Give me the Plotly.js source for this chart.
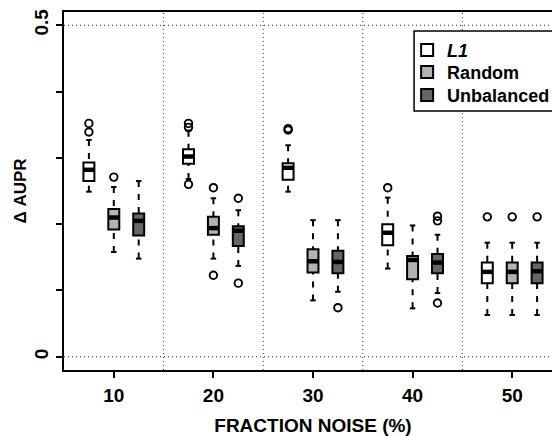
<!DOCTYPE html>
<html><head><meta charset="utf-8">
<script src="https://cdn.plot.ly/plotly-3.0.1.min.js"></script>
<style>html,body{margin:0;padding:0;overflow:hidden;background:#fff;width:552px;height:436px}</style>
</head><body><div id="chart"></div>
<script>
// ---------- data ----------
const groups = [10, 20, 30, 40, 50];
const tickLabels = ['10', '20', '30', '40', '50'];
const seriesNames = ['<i>L1</i>', 'Random', 'Unbalanced'];

const l1Lower   = [0.249, 0.268, 0.249, 0.133, 0.063];
const l1Q1      = [0.265, 0.291, 0.267, 0.168, 0.111];
const l1Median  = [0.282, 0.302, 0.285, 0.187, 0.128];
const l1Q3      = [0.293, 0.313, 0.292, 0.200, 0.142];
const l1Upper   = [0.327, 0.341, 0.319, 0.240, 0.172];
const l1Outliers = [[0.352, 0.339], [0.352, 0.346, 0.260], [0.342, 0.344], [0.255], [0.211]];

const randLower  = [0.158, 0.148, 0.085, 0.073, 0.063];
const randQ1     = [0.192, 0.184, 0.127, 0.117, 0.111];
const randMedian = [0.210, 0.194, 0.144, 0.146, 0.128];
const randQ3     = [0.223, 0.211, 0.162, 0.152, 0.142];
const randUpper  = [0.256, 0.239, 0.206, 0.198, 0.172];
const randOutliers = [[0.271], [0.255, 0.123], [], [], [0.211]];

const unbLower  = [0.148, 0.137, 0.098, 0.096, 0.063];
const unbQ1     = [0.183, 0.167, 0.126, 0.126, 0.111];
const unbMedian = [0.205, 0.190, 0.143, 0.142, 0.129];
const unbQ3     = [0.216, 0.197, 0.160, 0.155, 0.142];
const unbUpper  = [0.265, 0.221, 0.206, 0.184, 0.172];
const unbOutliers = [[], [0.239, 0.111], [0.074], [0.212, 0.205, 0.081], [0.211]];

const yTickVals = [0, 0.1, 0.2, 0.3, 0.4, 0.5];
const yTickText = ['0', '', '', '', '', '0.5'];
const refLinesY = [0, 0.5];
const groupSeparators = [15, 25, 35, 45];

// ---------- style ----------
const offsets = [-2.5, 0, 2.5];
const fills = ['#ffffff', '#b3b3b3', '#666666'];
const boxW = 1.1, stapleW = 0.55;
const FONT = 'Liberation Sans, Arial, sans-serif';
const legendIds = ['legend', 'legend2', 'legend3'];
const legendY = [0.945, 0.883, 0.819];

const series = [
  {lo: l1Lower, q1: l1Q1, med: l1Median, q3: l1Q3, hi: l1Upper, out: l1Outliers},
  {lo: randLower, q1: randQ1, med: randMedian, q3: randQ3, hi: randUpper, out: randOutliers},
  {lo: unbLower, q1: unbQ1, med: unbMedian, q3: unbQ3, hi: unbUpper, out: unbOutliers}
];

const traces = [];
const extra = [];
series.forEach((s, i) => {
  const xs = groups.map(g => g + offsets[i]);
  traces.push({
    type: 'box', name: seriesNames[i], x: xs, legend: legendIds[i],
    q1: s.q1, median: s.med, q3: s.q3, lowerfence: s.q1, upperfence: s.q3,
    width: boxW, whiskerwidth: 0, boxpoints: false,
    fillcolor: fills[i], line: {color: '#000', width: 2},
    hoverinfo: 'skip', showlegend: true
  });
  const mx = [], my = [];
  xs.forEach((x, k) => { mx.push(x - boxW / 2, x + boxW / 2, null); my.push(s.med[k], s.med[k], null); });
  extra.push({type: 'scatter', mode: 'lines', x: mx, y: my, line: {color: '#000', width: 4.5}, showlegend: false, hoverinfo: 'skip'});
  const wx = [], wy = [];
  xs.forEach((x, k) => { wx.push(x, x, null, x, x, null); wy.push(s.hi[k], s.q3[k], null, s.lo[k], s.q1[k], null); });
  extra.push({type: 'scatter', mode: 'lines', x: wx, y: wy, line: {color: '#000', width: 2, dash: '6px,7px'}, showlegend: false, hoverinfo: 'skip'});
  const sx = [], sy = [];
  xs.forEach((x, k) => {
    sx.push(x - stapleW / 2, x + stapleW / 2, null, x - stapleW / 2, x + stapleW / 2, null);
    sy.push(s.hi[k], s.hi[k], null, s.lo[k], s.lo[k], null);
  });
  extra.push({type: 'scatter', mode: 'lines', x: sx, y: sy, line: {color: '#000', width: 2}, showlegend: false, hoverinfo: 'skip'});
  const ox = [], oy = [];
  xs.forEach((x, k) => s.out[k].forEach(v => { ox.push(x); oy.push(v); }));
  extra.push({type: 'scatter', mode: 'markers', x: ox, y: oy,
    marker: {symbol: 'circle-open', size: 7.5, color: '#000', line: {width: 1.9, color: '#000'}},
    showlegend: false, hoverinfo: 'skip'});
});

const shapes = [];
refLinesY.forEach(v => shapes.push({type: 'line', xref: 'paper', x0: 0, x1: 1, yref: 'y', y0: v, y1: v,
  line: {color: '#333', width: 1, dash: '1px,3px'}, layer: 'below'}));
groupSeparators.forEach(v => shapes.push({type: 'line', yref: 'paper', y0: 0, y1: 1, xref: 'x', x0: v, x1: v,
  line: {color: '#333', width: 1, dash: '1px,3px'}, layer: 'below'}));
// legend frame
shapes.push({type: 'rect', xref: 'paper', yref: 'paper', x0: 0.703, x1: 0.985, y0: 0.7235, y1: 0.947,
  line: {color: '#000', width: 1.5}, fillcolor: '#fff', layer: 'above'});

const legendBase = {xanchor: 'left', yanchor: 'top', x: 0.689, borderwidth: 0,
  bgcolor: 'rgba(0,0,0,0)', font: {family: FONT, size: 18, color: '#000', weight: 'bold'}};

const layout = {
  width: 570, height: 436,
  margin: {l: 64, r: 8, t: 12, b: 66},
  paper_bgcolor: '#fff', plot_bgcolor: '#fff',
  font: {family: FONT, size: 19, color: '#000', weight: 'bold'},
  boxmode: 'overlay',
  showlegend: true,
  legend: Object.assign({}, legendBase, {y: legendY[0]}),
  legend2: Object.assign({}, legendBase, {y: legendY[1]}),
  legend3: Object.assign({}, legendBase, {y: legendY[2]}),
  xaxis: {range: [5, 55], tickmode: 'array', tickvals: groups, ticktext: tickLabels,
    ticks: 'outside', ticklen: 6, tickwidth: 2, tickcolor: '#000',
    showline: true, linewidth: 2, linecolor: '#000', mirror: true,
    showgrid: false, zeroline: false, ticklabelstandoff: 1,
    tickfont: {family: FONT, size: 19, weight: 'bold'},
    title: {text: 'FRACTION NOISE (%)', font: {family: FONT, size: 19, weight: 'bold'}, standoff: 14}},
  yaxis: {range: [-0.02, 0.52], tickmode: 'array', tickvals: yTickVals, ticktext: yTickText,
    tickangle: -90, ticks: 'outside', ticklen: 6, tickwidth: 2, tickcolor: '#000',
    showline: true, linewidth: 2, linecolor: '#000', mirror: true,
    showgrid: false, zeroline: false, ticklabelstandoff: 0,
    tickfont: {family: FONT, size: 19, weight: 'bold'},
    title: {text: 'Δ AUPR', font: {family: FONT, size: 17, weight: 'bold'}, standoff: 0}},
  shapes: shapes
};

Plotly.newPlot('chart', traces.concat(extra), layout, {staticPlot: true, displayModeBar: false});
</script>
</body></html>
